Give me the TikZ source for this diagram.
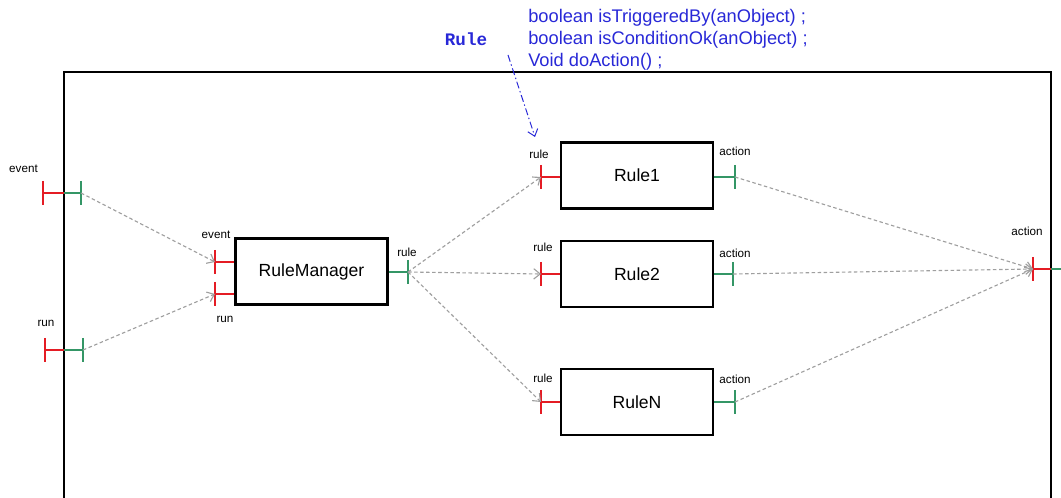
\documentclass[tikz,border=0pt]{standalone}
\usepackage{fontspec}
\setmainfont{Liberation Sans}
\setmonofont{Liberation Mono}
\usetikzlibrary{arrows.meta}
\definecolor{portred}{RGB}{228,28,36}
\definecolor{portgreen}{RGB}{52,150,102}
\definecolor{noteblue}{RGB}{40,40,215}
\tikzset{blk/.style={draw,line width=2pt,minimum width=3.8cm,minimum height=1.65cm,inner sep=0pt,font=\fontsize{12.5}{14}\selectfont},
  inport/.style={draw=portred,line width=2pt},
  outport/.style={draw=portgreen,line width=2pt},
  flow/.style={gray!75,line width=0.8pt,dash pattern=on 2.5pt off 1.8pt,-{Straight Barb[length=1.6mm,width=2.6mm]}},
  lbl/.style={font=\fontsize{8.3}{10}\selectfont,inner sep=0pt}}

\begin{document}
\begin{tikzpicture}[x=0.025cm,y=-0.025cm,
 note/.style={text=noteblue,inner sep=0pt}]
\clip (0,0) rectangle (1061,498);
% outer frame
\draw[line width=2pt] (64,520) -- (64,72) -- (1051,72) -- (1051,520);
% blocks
\node[blk] (rm) at (311.5,271.5) {RuleManager};
\node[blk] (r1) at (637,175.5) {Rule1};
\node[blk] (r2) at (637,274) {Rule2};
\node[blk] (rn) at (637,402) {RuleN};
% port ends
\coordinate (ev-in) at (43,193); \coordinate (ev-out) at (81,193);
\coordinate (run-in) at (45,350); \coordinate (run-out) at (83,350);
\coordinate (rm-ev) at (215,262); \coordinate (rm-run) at (215,294);
\coordinate (rm-rule) at (408,272);
\coordinate (r1-rule) at (541,177); \coordinate (r1-act) at (735,177);
\coordinate (r2-rule) at (541,274); \coordinate (r2-act) at (733,274);
\coordinate (rn-rule) at (541,402); \coordinate (rn-act) at (735,402);
\coordinate (act-in) at (1033,269); \coordinate (act-out) at (1075,269);
% outer ports
\draw[inport] (ev-in) -- (64,193) (ev-in) ++(0,-12) -- ++(0,24);
\draw[outport] (64,193) -- (ev-out) ++(0,-12) -- ++(0,24);
\draw[inport] (run-in) -- (64,350) (run-in) ++(0,-12) -- ++(0,24);
\draw[outport] (64,350) -- (run-out) ++(0,-12) -- ++(0,24);
\draw[inport] (act-in) -- (1051,269) (act-in) ++(0,-12) -- ++(0,24);
\draw[outport] (1051,269) -- (act-out);
% block ports
\draw[inport] (rm.west |- rm-ev) -- (rm-ev) ++(0,-12) -- ++(0,24);
\draw[inport] (rm.west |- rm-run) -- (rm-run) ++(0,-12) -- ++(0,24);
\draw[outport] (rm.east |- rm-rule) -- (rm-rule) ++(0,-12) -- ++(0,24);
\draw[inport] (r1.west |- r1-rule) -- (r1-rule) ++(0,-12) -- ++(0,24);
\draw[outport] (r1.east |- r1-act) -- (r1-act) ++(0,-12) -- ++(0,24);
\draw[inport] (r2.west |- r2-rule) -- (r2-rule) ++(0,-12) -- ++(0,24);
\draw[outport] (r2.east |- r2-act) -- (r2-act) ++(0,-12) -- ++(0,24);
\draw[inport] (rn.west |- rn-rule) -- (rn-rule) ++(0,-12) -- ++(0,24);
\draw[outport] (rn.east |- rn-act) -- (rn-act) ++(0,-12) -- ++(0,24);
% port labels
\node[lbl] (ev-lbl) at (23.5,169) {event};
\node[lbl] (run-lbl) at (46,323) {run};
\node[lbl] (rm-ev-lbl) at (216,235) {event};
\node[lbl] (rm-run-lbl) at (225,319) {run};
\node[lbl] (rm-rule-lbl) at (407,252) {rule};
\node[lbl] (r1-rule-lbl) at (539,154) {rule};
\node[lbl] (r1-act-lbl) at (735,151) {action};
\node[lbl] (r2-rule-lbl) at (543,247) {rule};
\node[lbl] (r2-act-lbl) at (735,253) {action};
\node[lbl] (rn-rule-lbl) at (543,378) {rule};
\node[lbl] (rn-act-lbl) at (735,379) {action};
\node[lbl] (act-lbl) at (1027,231) {action};
% flows
\draw[flow] (ev-out) -- (rm-ev);
\draw[flow] (run-out) -- (rm-run);
\draw[flow] (rm-rule) -- (r1-rule);
\draw[flow] (rm-rule) -- (r2-rule);
\draw[flow] (rm-rule) -- (rn-rule);
\draw[flow] (r1-act) -- (act-in);
\draw[flow] (r2-act) -- (act-in);
\draw[flow] (rn-act) -- (act-in);
% interface note
\node[note,font=\ttfamily\bfseries\fontsize{12.5}{14}\selectfont] (rule-if) at (466,39) {Rule};
\node[note,anchor=west,align=left,font=\fontsize{13}{15.5}\selectfont] (rule-ops) at (528,40)
 {boolean isTriggeredBy(anObject) ;\\boolean isConditionOk(anObject) ;\\Void doAction() ;};
\coordinate (note-from) at (508,55);
\coordinate (note-to) at (535,137);
\draw[noteblue,line width=0.7pt,dash pattern=on 5pt off 2pt on 1pt off 2pt,-{Straight Barb[length=1.6mm,width=2.6mm]}] (note-from) -- (note-to);
\end{tikzpicture}
\end{document}
